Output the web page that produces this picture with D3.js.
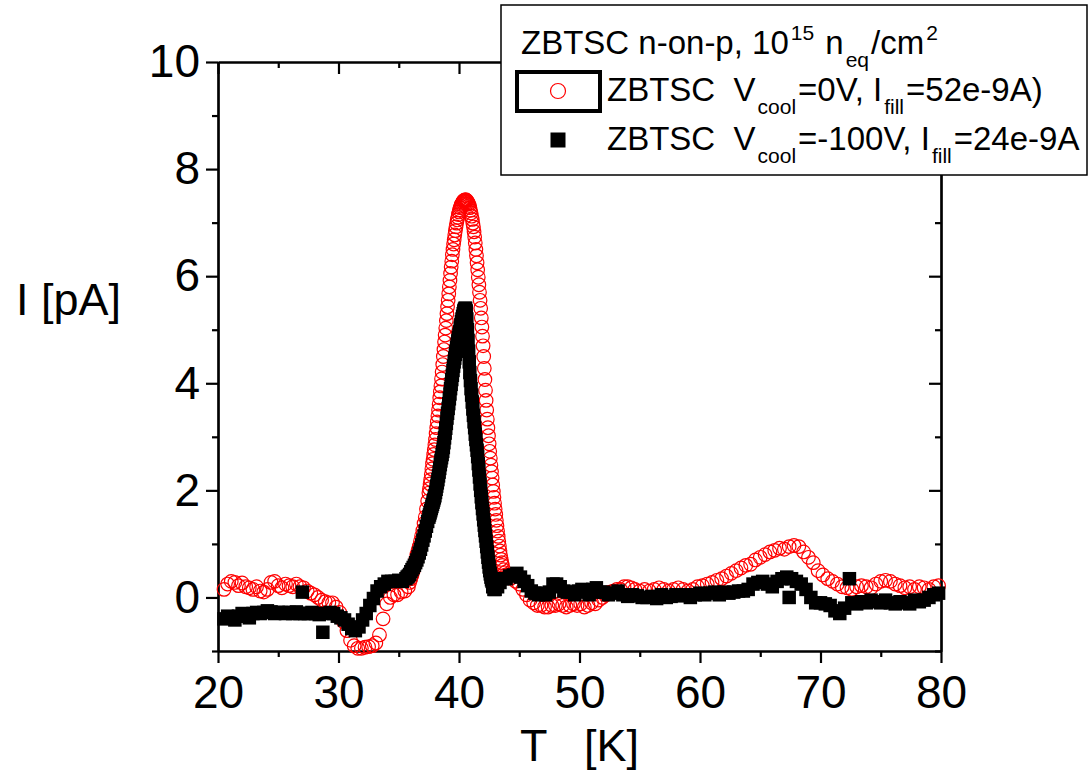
<!DOCTYPE html>
<html>
<head>
<meta charset="utf-8">
<script src="https://cdn.jsdelivr.net/npm/d3@7"></script>
<style>
  html, body { margin: 0; padding: 0; background: #fff; }
  svg { display: block; }
  text { font-family: "Liberation Sans", Arial, sans-serif; fill: #000; }
</style>
</head>
<body>
<svg id="chart" width="1090" height="772"></svg>
<script>
// ---- Data ----
// Series 1: V_cool = 0 V (red open circles)
const redT = [
  20.5,20.8,21.1,21.4,21.7,22.0,22.3,22.6,22.9,23.2,23.5,23.8,24.1,24.4,24.7,25.0,25.3,25.6,25.9,26.2,26.5,26.8,27.1,27.4,27.7,28.0,28.3,28.6,28.9,29.2,29.5,29.8,30.1,30.4,30.7,31.0,31.3,31.6,31.9,32.2,32.5,32.8,33.1,33.4,33.7,34.0,34.3,34.6,34.9,35.2,35.5,
  35.8,35.9,36.0,36.1,36.2,36.3,36.4,36.5,36.6,36.7,36.8,36.9,37.0,37.1,37.2,37.3,37.4,37.5,
  37.55,37.6,37.65,37.7,37.75,37.8,37.85,37.9,37.95,38.0,
  38.05,38.1,38.15,38.2,38.25,38.3,38.35,38.4,38.45,38.5,
  38.55,38.6,38.65,38.7,38.75,38.8,38.85,38.9,38.95,39.0,
  39.05,39.1,39.15,39.2,39.25,39.3,39.35,39.4,39.45,39.5,
  39.55,39.6,39.65,39.7,39.75,39.8,39.85,39.9,39.95,40.0,
  40.05,40.1,40.15,40.2,40.25,40.3,40.35,40.4,40.45,40.5,
  40.55,40.6,40.65,40.7,40.75,40.8,40.85,40.9,40.95,41.0,
  41.05,41.1,41.15,41.2,41.25,41.3,41.35,41.4,41.45,41.5,
  41.55,41.6,41.65,41.7,41.75,41.8,41.85,41.9,41.95,42.0,
  42.05,42.1,42.15,42.2,42.25,42.3,42.35,42.4,42.45,42.5,
  42.55,42.6,42.65,42.7,42.75,42.8,42.85,42.9,42.95,43.0,
  43.05,43.1,43.15,43.2,43.25,43.3,43.35,43.4,43.45,43.5,
  43.55,43.6,43.7,43.8,43.9,44.0,
  44.3,44.7,45.0,45.3,45.6,45.9,46.2,46.5,46.8,47.1,47.4,47.7,48.0,48.3,48.6,48.9,49.2,49.5,49.8,50.1,50.4,50.7,51.0,51.3,51.6,51.9,52.2,52.5,52.8,53.1,53.4,53.7,54.0,54.3,54.6,
  55.0,55.4,55.8,56.2,56.6,57.0,57.4,57.8,58.2,58.6,59.0,59.4,59.8,60.2,60.6,61.0,61.4,61.8,62.2,62.6,63.0,63.4,63.8,64.2,64.6,65.0,65.4,65.8,66.2,66.6,67.0,67.4,67.8,68.2,68.6,69.0,69.4,69.8,70.2,70.6,71.0,71.4,71.8,72.2,72.6,73.0,73.4,73.8,74.2,74.6,75.0,75.4,75.8,76.2,76.6,77.0,77.4,77.8,78.2,78.6,79.0,79.4,79.8
];
const redI = [
  0.15,0.25,0.3,0.28,0.22,0.27,0.2,0.18,0.15,0.2,0.12,0.1,0.15,0.28,0.3,0.22,0.18,0.25,0.22,0.2,0.25,0.2,0.18,0.12,0.08,0.05,0.0,-0.05,-0.08,-0.1,-0.1,-0.18,-0.28,-0.45,-0.62,-0.8,-0.9,-0.95,-0.95,-0.93,-0.92,-0.9,-0.85,-0.7,-0.4,-0.12,0.0,0.05,0.05,0.1,0.12,
  0.2,0.28,0.35,0.42,0.5,0.6,0.7,0.8,0.88,0.95,1.05,1.15,1.25,1.38,1.5,1.65,1.8,1.95,
  2.03,2.12,2.2,2.3,2.4,2.5,2.58,2.67,2.76,2.85,
  2.95,3.06,3.17,3.28,3.39,3.5,3.61,3.73,3.84,3.95,
  4.08,4.21,4.35,4.5,4.63,4.77,4.9,5.03,5.17,5.3,
  5.43,5.55,5.67,5.8,5.92,6.05,6.17,6.28,6.4,6.5,
  6.6,6.68,6.77,6.85,6.92,6.99,7.05,7.1,7.15,7.2,
  7.24,7.28,7.31,7.34,7.36,7.38,7.4,7.41,7.42,7.42,
  7.43,7.42,7.41,7.39,7.37,7.35,7.32,7.28,7.23,7.18,
  7.12,7.06,6.99,6.92,6.83,6.73,6.62,6.5,6.38,6.25,
  6.12,5.98,5.84,5.7,5.55,5.4,5.22,5.05,4.88,4.7,
  4.5,4.28,4.07,3.87,3.68,3.5,3.33,3.17,3.02,2.87,
  2.73,2.6,2.47,2.35,2.23,2.1,1.98,1.87,1.76,1.65,
  1.55,1.44,1.34,1.24,1.14,1.05,0.96,0.87,0.79,0.71,
  0.65,0.6,0.52,0.46,0.42,0.4,
  0.36,0.3,0.25,0.15,0.05,-0.05,-0.1,-0.15,-0.15,-0.18,-0.18,-0.15,-0.15,-0.12,-0.15,-0.18,-0.15,-0.12,-0.15,-0.12,-0.18,-0.15,-0.1,-0.12,-0.05,0.0,0.05,0.1,0.12,0.15,0.15,0.2,0.2,0.18,0.15,
  0.12,0.15,0.12,0.15,0.18,0.15,0.12,0.15,0.18,0.15,0.12,0.15,0.2,0.22,0.25,0.28,0.32,0.35,0.4,0.45,0.5,0.55,0.6,0.62,0.7,0.75,0.8,0.85,0.88,0.92,0.9,0.95,0.97,0.95,0.85,0.75,0.65,0.5,0.42,0.35,0.3,0.25,0.2,0.18,0.15,0.2,0.22,0.2,0.18,0.25,0.3,0.32,0.3,0.25,0.22,0.18,0.2,0.15,0.2,0.18,0.15,0.2,0.22
];

// Series 2: V_cool = -100 V (black filled squares)
const blackT = [
  20.5,20.8,21.1,21.4,21.7,22.0,22.3,22.6,22.9,23.2,23.5,23.8,24.1,24.4,24.7,25.0,25.3,25.6,25.9,26.2,26.5,26.8,
  27.0,27.2,27.5,27.8,28.1,28.4,28.7,29.0,29.3,29.6,29.9,30.2,30.5,30.8,31.1,31.4,31.7,32.0,32.3,32.6,32.9,33.2,33.5,33.8,34.1,34.4,34.7,35.0,35.3,
  35.6,35.7,35.8,35.9,36.0,36.1,36.2,36.3,36.4,36.5,36.6,36.7,36.8,36.9,37.0,37.1,37.2,37.3,37.4,
  37.5,37.55,37.6,37.65,37.7,37.75,37.8,37.85,37.9,37.95,
  38.0,38.05,38.1,38.15,38.2,38.25,38.3,38.35,38.4,38.45,
  38.5,38.55,38.6,38.65,38.7,38.75,38.8,38.85,38.9,38.95,
  39.0,39.05,39.1,39.15,39.2,39.25,39.3,39.35,39.4,39.45,
  39.5,39.55,39.6,39.65,39.7,39.75,39.8,39.85,39.9,39.95,
  40.0,40.05,40.1,40.15,40.2,40.25,40.3,40.35,40.4,40.45,
  40.5,40.55,40.6,40.65,40.7,40.75,40.8,40.85,40.9,40.95,
  41.0,41.05,41.1,41.15,41.2,41.25,41.3,41.35,41.4,41.45,
  41.5,41.55,41.6,41.65,41.7,41.75,41.8,41.85,41.9,41.95,
  42.0,42.05,42.1,42.15,42.2,42.25,42.3,42.35,42.4,42.45,
  42.5,42.55,42.6,42.65,42.7,42.75,
  42.8,42.9,43.0,43.2,43.4,
  43.6,43.9,44.2,44.5,44.8,45.1,45.4,45.7,46.0,46.3,46.6,46.9,47.2,47.5,47.8,48.1,48.4,48.7,49.0,49.3,49.6,49.9,50.2,50.5,50.8,51.1,51.4,51.7,52.0,
  52.4,52.8,53.2,53.6,54.0,54.4,54.8,55.2,55.6,56.0,56.4,56.8,57.2,57.6,58.0,58.4,58.8,59.2,59.6,60.0,60.4,60.8,61.2,61.6,62.0,62.4,62.8,63.2,63.6,64.0,64.4,64.8,65.2,65.6,66.0,66.4,66.8,67.2,67.4,67.6,68.0,68.4,68.8,69.2,69.6,70.0,70.4,70.8,71.2,71.6,72.0,72.4,72.6,73.0,73.4,73.8,74.2,74.6,75.0,75.4,75.8,76.2,76.6,77.0,77.4,77.8,78.2,78.6,79.0,79.4,79.8
];
const blackI = [
  -0.4,-0.35,-0.38,-0.42,-0.35,-0.3,-0.35,-0.38,-0.3,-0.28,-0.3,-0.28,-0.25,-0.27,-0.3,-0.28,-0.28,-0.3,-0.28,-0.3,-0.27,-0.3,
  0.1,-0.3,-0.3,-0.28,-0.3,-0.32,-0.65,-0.3,-0.28,-0.3,-0.35,-0.38,-0.42,-0.5,-0.58,-0.62,-0.55,-0.42,-0.3,-0.15,-0.02,0.12,0.2,0.25,0.3,0.3,0.3,0.32,0.3,
  0.35,0.38,0.4,0.43,0.48,0.52,0.56,0.6,0.65,0.7,0.76,0.83,0.9,0.98,1.07,1.15,1.24,1.33,1.42,
  1.5,1.54,1.58,1.62,1.66,1.7,1.74,1.78,1.82,1.86,
  1.9,1.96,2.02,2.08,2.14,2.2,2.27,2.34,2.41,2.48,
  2.55,2.61,2.67,2.73,2.8,2.89,2.98,3.07,3.16,3.25,
  3.35,3.44,3.53,3.62,3.71,3.8,3.9,3.98,4.07,4.15,
  4.24,4.32,4.4,4.47,4.54,4.6,4.67,4.73,4.79,4.85,
  4.9,4.96,5.03,5.09,5.15,5.2,5.25,5.3,5.35,5.38,
  5.4,5.4,5.35,5.2,5.0,4.8,4.6,4.4,4.2,4.05,
  3.9,3.78,3.65,3.52,3.4,3.28,3.17,3.05,2.95,2.85,
  2.75,2.63,2.5,2.38,2.25,2.12,2.0,1.88,1.77,1.66,
  1.56,1.45,1.35,1.25,1.15,1.05,0.95,0.85,0.75,0.66,
  0.57,0.5,0.44,0.38,0.33,0.3,
  0.2,0.15,0.15,0.2,0.28,
  0.35,0.35,0.4,0.42,0.45,0.38,0.3,0.22,0.12,0.08,0.05,0.08,0.05,0.1,0.25,0.25,0.2,0.12,0.1,0.1,0.05,0.12,0.15,0.1,0.05,0.15,0.18,0.1,0.1,
  0.05,0.08,0.12,0.05,0.02,0.05,0.03,0.0,0.0,0.02,-0.02,0.05,0.0,0.02,0.05,0.03,0.05,0.0,0.05,0.08,0.05,0.08,0.1,0.05,0.1,0.08,0.1,0.12,0.12,0.15,0.25,0.28,0.3,0.25,0.2,0.3,0.35,0.38,0.0,0.35,0.3,0.25,0.15,0.0,-0.1,-0.1,-0.12,-0.15,-0.25,-0.3,-0.2,0.35,-0.1,-0.12,-0.08,-0.1,-0.05,-0.08,-0.1,-0.05,-0.1,-0.12,-0.08,-0.1,-0.12,-0.05,-0.08,-0.05,0.0,0.05,0.08
];

const xMajorTicks = [20,30,40,50,60,70,80];
const xMinorTicks = [25,35,45,55,65,75];
const yMajorTicks = [0,2,4,6,8,10];
const yMinorTicks = [-1,1,3,5,7,9];

const xTitle = "T   [K]";
const yTitle = "I [pA]";

// ---- Layout ----
const svg = d3.select("#chart");
const L = 218, R = 941, T = 62, B = 651;
const x = d3.scaleLinear().domain([20, 80]).range([L, R]);
const y = d3.scaleLinear().domain([-1, 10]).range([B, T]);

svg.append("rect").attr("width", 1090).attr("height", 772).attr("fill", "#fff");

function styleAxis(g) {
  g.selectAll("path.domain").attr("stroke", "#000").attr("stroke-width", 2.2);
  g.selectAll(".tick line").attr("stroke", "#000").attr("stroke-width", 2.2);
}
const FONT = "Liberation Sans, Arial, sans-serif";

// bottom
const gB = svg.append("g").attr("transform", `translate(0,${B})`);
gB.call(d3.axisBottom(x).tickValues(xMajorTicks).tickSize(12).tickSizeOuter(0).tickPadding(12).tickFormat(d3.format("d")));
gB.append("g").call(d3.axisBottom(x).tickValues(xMinorTicks).tickSize(6).tickSizeOuter(0).tickFormat(""));
gB.selectAll("text").attr("font-size", 46).attr("font-family", FONT).attr("fill", "#000");
styleAxis(gB);

// top
const gT = svg.append("g").attr("transform", `translate(0,${T})`);
gT.call(d3.axisTop(x).tickValues(xMajorTicks).tickSize(-12).tickSizeOuter(0).tickFormat(""));
gT.append("g").call(d3.axisTop(x).tickValues(xMinorTicks).tickSize(-6).tickSizeOuter(0).tickFormat(""));
styleAxis(gT);

// left
const gL = svg.append("g").attr("transform", `translate(${L},0)`);
gL.call(d3.axisLeft(y).tickValues(yMajorTicks).tickSize(12).tickSizeOuter(0).tickPadding(6).tickFormat(d3.format("d")));
gL.append("g").call(d3.axisLeft(y).tickValues(yMinorTicks).tickSize(6).tickSizeOuter(0).tickFormat(""));
gL.selectAll("text").attr("font-size", 46).attr("font-family", FONT).attr("fill", "#000");
styleAxis(gL);

// right
const gR = svg.append("g").attr("transform", `translate(${R},0)`);
gR.call(d3.axisRight(y).tickValues(yMajorTicks).tickSize(-12).tickSizeOuter(0).tickFormat(""));
gR.append("g").call(d3.axisRight(y).tickValues(yMinorTicks).tickSize(-6).tickSizeOuter(0).tickFormat(""));
styleAxis(gR);

// ---- Data marks ----
const redData = redT.map((t, i) => ({ t, v: redI[i] }));
const blackData = blackT.map((t, i) => ({ t, v: blackI[i] }));

svg.append("g").selectAll("circle").data(redData).join("circle")
  .attr("cx", d => x(d.t)).attr("cy", d => y(d.v)).attr("r", 6.8)
  .attr("fill", "none").attr("stroke", "#ff0000").attr("stroke-width", 1.2);

const sq = 13.5;
svg.append("g").selectAll("rect").data(blackData).join("rect")
  .attr("x", d => x(d.t) - sq / 2).attr("y", d => y(d.v) - sq / 2)
  .attr("width", sq).attr("height", sq).attr("fill", "#000");

// ---- Axis titles ----
svg.append("text").attr("x", (L + R) / 2).attr("y", 761).attr("text-anchor", "middle")
  .attr("font-size", 45).style("white-space", "pre").text(xTitle);
svg.append("text").attr("x", 16).attr("y", 315).attr("font-size", 45).text(yTitle);

// ---- Legend ----
const lg = svg.append("g");
lg.append("rect").attr("x", 501).attr("y", 5).attr("width", 586).attr("height", 170)
  .attr("fill", "#fff").attr("stroke", "#000").attr("stroke-width", 1.5);

const SUB = 21, SH = 13, SUP = 14;
const title = lg.append("text").attr("x", 521).attr("y", 54).attr("font-size", 33).style("white-space", "pre");
title.append("tspan").text("ZBTSC n-on-p, 10");
title.append("tspan").attr("font-size", SUB).attr("dx", 2).attr("dy", -SUP).text("15");
title.append("tspan").attr("dx", 2).attr("dy", SUP).text(" n");
title.append("tspan").attr("font-size", SUB).attr("dx", 2).attr("dy", SH).text("eq");
title.append("tspan").attr("dx", 2).attr("dy", -SH).text("/cm");
title.append("tspan").attr("font-size", SUB).attr("dx", 2).attr("dy", -SUP).text("2");

lg.append("rect").attr("x", 517).attr("y", 72).attr("width", 83).attr("height", 39)
  .attr("fill", "#fff").attr("stroke", "#000").attr("stroke-width", 4);
lg.append("circle").attr("cx", 558).attr("cy", 91).attr("r", 7.5)
  .attr("fill", "none").attr("stroke", "#ff0000").attr("stroke-width", 1.2);
lg.append("rect").attr("x", 558 - 7.5).attr("y", 140 - 7.5).attr("width", 15).attr("height", 15).attr("fill", "#000");

function legendRow(yb, a, b) {
  const t = lg.append("text").attr("x", 607).attr("y", yb).attr("font-size", 33).style("white-space", "pre");
  t.append("tspan").text("ZBTSC  V");
  t.append("tspan").attr("font-size", SUB).attr("dx", 2).attr("dy", SH).text("cool");
  t.append("tspan").attr("dx", 2).attr("dy", -SH).text(a);
  t.append("tspan").attr("font-size", SUB).attr("dx", 2).attr("dy", SH).text("fill");
  t.append("tspan").attr("dx", 2).attr("dy", -SH).text(b);
}
legendRow(101, "=0V, I", "=52e-9A)");
legendRow(150, "=-100V, I", "=24e-9A");
</script>
</body>
</html>
